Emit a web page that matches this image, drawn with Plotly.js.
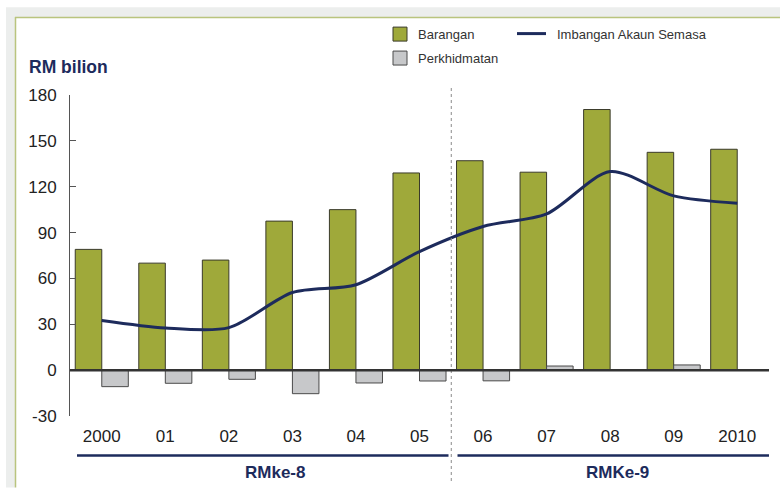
<!DOCTYPE html>
<html>
<head>
<meta charset="utf-8">
<script src="https://cdn.plot.ly/plotly-3.0.1.min.js"></script>
<style>html,body{margin:0;padding:0;background:#fff;}#chart{width:780px;height:488px;}</style>
</head>
<body>
<div id="chart"></div>
<script>
// ---- data ----
const categories = ["2000","01","02","03","04","05","06","07","08","09","2010"];
const barangan = [79, 70, 72, 97.5, 105, 129, 137, 129.5, 170.5, 142.5, 144.5];
const perkhidmatan = [-10.8, -8.6, -6, -15.4, -8.4, -7.1, -7, 2.7, 0, 3.4, 0.4];
const imbangan = [32.5, 27.6, 27.8, 50.8, 55.9, 77.6, 94, 102.2, 129.9, 114, 109.2];
const periodLabels = ["RMke-8", "RMKe-9"];
const seriesNames = ["Barangan", "Perkhidmatan", "Imbangan Akaun Semasa"];
const yTicks = [-30, 0, 30, 60, 90, 120, 150, 180];

// ---- geometry helpers (pixel -> paper) ----
const W = 780, H = 488;
const M = {l: 70, r: 11, t: 95, b: 71.5};
const PW = W - M.l - M.r, PH = H - M.t - M.b;
const px = x => (x - M.l) / PW;
const py = y => (H - M.b - y) / PH;

const GREEN = '#9fa93a', GREY = '#c7c8ca', NAVY = '#1d2b5c', OLIVE = '#b9c47e', BAND = '#eceeed';
const FONT = 'Liberation Sans, Arial, sans-serif';

const traces = [
  {type: 'bar', name: seriesNames[0], x: categories, y: barangan,
   marker: {color: GREEN, line: {color: '#3a3a2a', width: 1}}, showlegend: false, hoverinfo: 'y'},
  {type: 'bar', name: seriesNames[1], x: categories, y: perkhidmatan,
   marker: {color: GREY, line: {color: '#4a4a4a', width: 1}}, showlegend: false, hoverinfo: 'y'},
  {type: 'scatter', mode: 'lines', name: seriesNames[2], x: categories, y: imbangan,
   line: {color: NAVY, width: 3, shape: 'spline', smoothing: 0.8}, showlegend: false}
];

const shapes = [
  // frame background bands
  {type: 'rect', xref: 'paper', yref: 'paper', x0: px(6), x1: px(780), y0: py(17), y1: py(7), fillcolor: BAND, line: {width: 0}, layer: 'below'},
  {type: 'rect', xref: 'paper', yref: 'paper', x0: px(6), x1: px(15), y0: py(488), y1: py(17), fillcolor: BAND, line: {width: 0}, layer: 'below'},
  {type: 'line', xref: 'paper', yref: 'paper', x0: px(15.5), x1: px(15.5), y0: py(17), y1: py(488), line: {color: OLIVE, width: 1.5}},
  {type: 'line', xref: 'paper', yref: 'paper', x0: px(15), x1: px(780), y0: py(17.5), y1: py(17.5), line: {color: OLIVE, width: 1.5}},
  // dotted separator
  {type: 'line', xref: 'x', yref: 'paper', x0: 5.5, x1: 5.5, y0: py(88), y1: py(482), line: {color: '#8a8a8a', width: 1, dash: 'dot'}},
  // zero line on top
  {type: 'line', xref: 'paper', yref: 'y', x0: 0, x1: 1, y0: 0, y1: 0, line: {color: '#333333', width: 2.5}, layer: 'above'},
  // period underlines
  {type: 'line', xref: 'paper', yref: 'paper', x0: px(77), x1: px(448.5), y0: py(456), y1: py(456), line: {color: NAVY, width: 2.5}},
  {type: 'line', xref: 'paper', yref: 'paper', x0: px(457.5), x1: px(769), y0: py(456), y1: py(456), line: {color: NAVY, width: 2.5}},
  // legend symbols
  {type: 'rect', xref: 'paper', yref: 'paper', x0: px(393), x1: px(407), y0: py(41), y1: py(27), fillcolor: GREEN, line: {color: '#3a3a2a', width: 1}},
  {type: 'rect', xref: 'paper', yref: 'paper', x0: px(393), x1: px(407), y0: py(65), y1: py(51), fillcolor: GREY, line: {color: '#4a4a4a', width: 1}},
  {type: 'line', xref: 'paper', yref: 'paper', x0: px(517), x1: px(546), y0: py(33.5), y1: py(33.5), line: {color: NAVY, width: 3}}
];

const annotations = [
  {xref: 'paper', yref: 'paper', x: px(27), y: py(67), xanchor: 'left', yanchor: 'middle', showarrow: false,
   text: '<b>RM bilion</b>', font: {family: FONT, size: 17.5, color: NAVY}},
  {xref: 'paper', yref: 'paper', x: px(275), y: py(473), xanchor: 'center', yanchor: 'middle', showarrow: false,
   text: '<b>' + periodLabels[0] + '</b>', font: {family: FONT, size: 17, color: NAVY}},
  {xref: 'paper', yref: 'paper', x: px(617), y: py(473), xanchor: 'center', yanchor: 'middle', showarrow: false,
   text: '<b>' + periodLabels[1] + '</b>', font: {family: FONT, size: 17, color: NAVY}},
  {xref: 'paper', yref: 'paper', x: px(416), y: py(34), xanchor: 'left', yanchor: 'middle', showarrow: false,
   text: seriesNames[0], font: {family: FONT, size: 13, color: '#333'}},
  {xref: 'paper', yref: 'paper', x: px(416), y: py(58), xanchor: 'left', yanchor: 'middle', showarrow: false,
   text: seriesNames[1], font: {family: FONT, size: 13, color: '#333'}},
  {xref: 'paper', yref: 'paper', x: px(555), y: py(34), xanchor: 'left', yanchor: 'middle', showarrow: false,
   text: seriesNames[2], font: {family: FONT, size: 13, color: '#333'}}
];

const layout = {
  width: W, height: H,
  margin: M,
  paper_bgcolor: '#ffffff', plot_bgcolor: 'rgba(0,0,0,0)',
  barmode: 'group', bargap: 0.165, bargroupgap: 0,
  showlegend: false,
  font: {family: FONT, color: '#222'},
  xaxis: {type: 'category', range: [-0.5, 10.5], showgrid: false, zeroline: false, showline: false,
          ticks: '', tickfont: {family: FONT, size: 17, color: '#222'}, ticklabelstandoff: 8, fixedrange: true},
  yaxis: {range: [-30, 180], tickvals: yTicks, ticktext: yTicks.map(String), showgrid: false, zeroline: false,
          showline: true, linecolor: '#555', linewidth: 1, ticks: 'inside', ticklen: 6, tickcolor: '#555',
          tickfont: {family: FONT, size: 17, color: '#222'}, ticklabelstandoff: 9, fixedrange: true},
  shapes: shapes,
  annotations: annotations
};

Plotly.newPlot('chart', traces, layout, {displayModeBar: false, staticPlot: true});
</script>
</body>
</html>
